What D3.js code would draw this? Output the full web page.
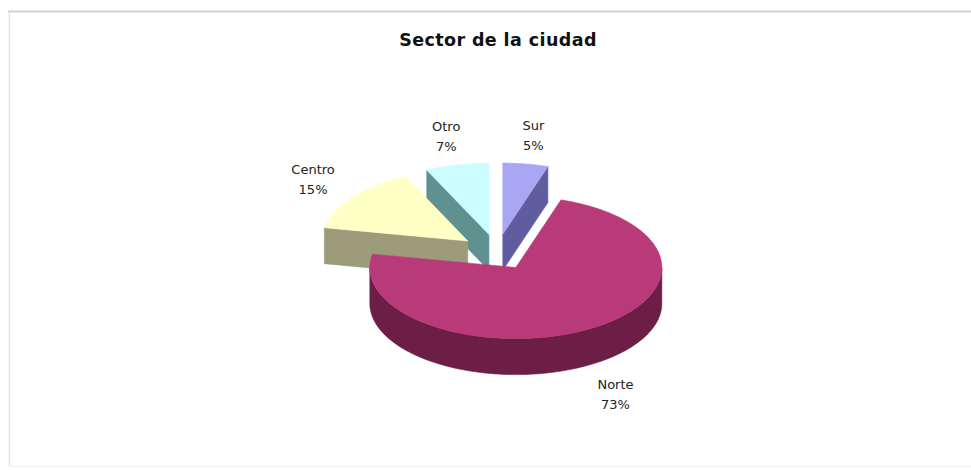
<!DOCTYPE html>
<html>
<head>
<meta charset="utf-8">
<script src="https://cdn.jsdelivr.net/npm/d3@7"></script>
<style>
  html, body { margin: 0; padding: 0; background: #ffffff; }
  svg { display: block; }
</style>
</head>
<body>
<svg id="chart" width="971" height="470"></svg>
<script>
// Sector de la ciudad: share of respondents by city sector
const categories = ["Sur", "Norte", "Centro", "Otro"];
const values = [5, 73, 15, 7];
const topColors = ["#A9A7F3", "#B93A79", "#FFFFC6", "#CBFCFF"];
const sideColors = ["#5F5DA0", "#6C1E46", "#9C9C7A", "#5F9191"];
const title = "Sector de la ciudad";

const W = 971, H = 470;
const svg = d3.select("#chart");

// frame of the chart area
svg.append("line").attr("x1", 8).attr("x2", W).attr("y1", 11.5).attr("y2", 11.5)
  .attr("stroke", "#d2d2d2").attr("stroke-width", 2);
svg.append("line").attr("x1", 9.5).attr("x2", 9.5).attr("y1", 11).attr("y2", 466)
  .attr("stroke", "#e2e2e2").attr("stroke-width", 1.5);
svg.append("line").attr("x1", 9).attr("x2", W).attr("y1", 466.5).attr("y2", 466.5)
  .attr("stroke", "#f2f2f2").attr("stroke-width", 1);

svg.append("text")
  .attr("x", 498).attr("y", 46)
  .attr("text-anchor", "middle")
  .attr("font-family", "DejaVu Sans, Verdana, sans-serif")
  .attr("font-weight", "bold")
  .attr("font-size", 17.5)
  .attr("letter-spacing", 0.4)
  .attr("fill", "#111")
  .text(title);

// 3D pie geometry (orthographic view of a tilted disc)
const cx = 497, cy = 252;
const rx = 146;          // radius on screen, horizontal
const tilt = 0.487;      // vertical squash of the disc
const depth = 36;        // thickness of the disc
const explode = 37;      // radial offset of every slice

const pie = d3.pie().sort(null).value(d => d);
const arcs = pie(values).map((a, i) => Object.assign(a, { i }));

const topScale = d3.scaleOrdinal().domain(categories).range(topColors);
const sideScale = d3.scaleOrdinal().domain(categories).range(sideColors);

function mid(a) { return (a.startAngle + a.endAngle) / 2; }

function proj(a, theta, r, z) {
  const b = mid(a);
  const X = explode * Math.sin(b) + r * Math.sin(theta);
  const Y = -explode * Math.cos(b) - r * Math.cos(theta);
  return [cx + X, cy + Y * tilt + z];
}

function polyPath(pts) {
  const p = d3.path();
  pts.forEach((q, k) => k ? p.lineTo(q[0], q[1]) : p.moveTo(q[0], q[1]));
  p.closePath();
  return p.toString();
}

function rimPoints(a, t0, t1, z) {
  const n = Math.max(2, Math.ceil(Math.abs(t1 - t0) / 0.02));
  const pts = [];
  for (let k = 0; k <= n; k++) {
    const t = t0 + (t1 - t0) * k / n;
    pts.push(proj(a, t, rx, z));
  }
  return pts;
}

// back slices first
const order = arcs.slice().sort((p, q) => -Math.cos(mid(p)) - -Math.cos(mid(q)));

const g = svg.append("g");

order.forEach(a => {
  const cat = categories[a.i];
  const side = sideScale(cat), top = topScale(cat);
  const sg = g.append("g").attr("class", "slice");

  // radial cut faces that face the viewer
  [[a.startAngle, a.startAngle - Math.PI / 2], [a.endAngle, a.endAngle + Math.PI / 2]].forEach(([t, nrm]) => {
    if (-Math.cos(nrm) > 0.01) {
      const pts = [proj(a, t, 0, 0), proj(a, t, rx, 0), proj(a, t, rx, depth), proj(a, t, 0, depth)];
      sg.append("path").attr("d", polyPath(pts))
        .attr("fill", side).attr("stroke", side).attr("stroke-width", 0.6);
    }
  });

  // curved outer wall, front half only
  const w0 = Math.max(a.startAngle, Math.PI / 2), w1 = Math.min(a.endAngle, 3 * Math.PI / 2);
  if (w1 > w0) {
    const upper = rimPoints(a, w0, w1, 0);
    const lower = rimPoints(a, w1, w0, depth);
    sg.append("path").attr("d", polyPath(upper.concat(lower)))
      .attr("fill", side).attr("stroke", side).attr("stroke-width", 0.6);
  }

  // top face
  const topPts = [proj(a, 0, 0, 0)].concat(rimPoints(a, a.startAngle, a.endAngle, 0));
  sg.append("path").attr("d", polyPath(topPts))
    .attr("fill", top).attr("stroke", top).attr("stroke-width", 0.6);
});

// data labels: category and percentage, outside each slice
const total = d3.sum(values);
arcs.forEach(a => {
  const b = mid(a);
  const p = proj(a, b, rx * 1.3, 0);
  let x = p[0] + Math.sin(b) * 6;
  let y = p[1] - Math.cos(b) * 8;
  if (-Math.cos(b) > 0) y += depth + 4;
  const t = svg.append("text")
    .attr("text-anchor", "middle")
    .attr("font-family", "DejaVu Sans, Verdana, sans-serif")
    .attr("font-size", 13)
    .attr("fill", "#222");
  t.append("tspan").attr("x", x).attr("y", y - 5).text(categories[a.i]);
  t.append("tspan").attr("x", x).attr("y", y + 15)
    .text(d3.format(".0f")(a.data / total * 100) + "%");
});
</script>
</body>
</html>
